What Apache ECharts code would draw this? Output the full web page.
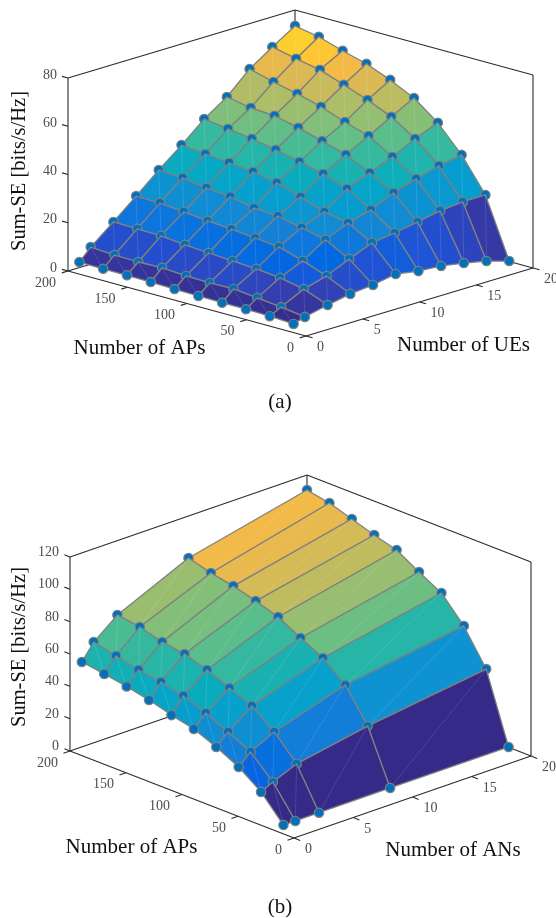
<!DOCTYPE html>
<html>
<head>
<meta charset="utf-8">
<style>html,body{margin:0;padding:0;background:#fff}#c{width:556px;height:918px}</style>
<script src="https://cdn.jsdelivr.net/npm/echarts@6/dist/echarts.min.js"></script>
</head>
<body>
<div id="c"></div>
<script>
// ---------- data: number of APs along the rows ----------
const apValues = [200,180,160,140,120,100,80,60,40,20];

// panel (a): Sum-SE for each number of UEs
const ueValues = [20,18,16,14,12,10,8,6,4,2,1];
const seUE20 = [73.4,71.6,68.5,65.8,61.8,57.0,49.4,38.8,24.9,0.2];
const seUE18 = [67.5,65.3,63.4,59.9,56.3,52.0,45.6,37.1,24.8,3.0];
const seUE16 = [61.2,58.5,56.3,53.6,50.0,46.9,40.9,34.5,23.9,5.0];
const seUE14 = [52.4,50.6,50.0,47.7,44.9,41.9,37.1,31.5,22.1,6.6];
const seUE12 = [46.1,44.7,43.3,41.4,39.1,36.8,33.3,27.3,20.4,7.3];
const seUE10 = [38.1,37.1,36.1,35.1,33.2,30.1,26.6,24.7,19.1,8.9];
const seUE8  = [30.6,30.0,28.6,27.6,25.6,25.0,22.8,20.5,15.2,7.2];
const seUE6  = [22.6,22.4,21.4,20.4,19.7,18.7,17.7,14.6,11.0,6.3];
const seUE4  = [14.7,14.5,14.3,13.3,12.6,12.0,11.4,10.4,8.4,4.5];
const seUE2  = [7.1,6.5,6.3,6.6,5.9,5.7,5.9,4.9,3.8,2.4];
const seUE1  = [2.3,2.2,2.2,2.1,1.9,1.7,1.6,1.6,1.4,0.9];

// panel (b): Sum-SE for each number of ANs
const anValues = [20,10,4,2,1];
const seAN20 = [110.7,108.0,103.5,99.0,95.1,86.9,79.3,64.3,43.0,0.2];
const seAN10 = [94.0,90.1,87.4,83.5,79.0,71.4,64.4,53.1,33.1,0.2];
const seAN4  = [74.0,71.9,68.0,66.0,61.5,55.7,50.0,39.3,24.9,0.1];
const seAN2  = [62.3,59.1,55.8,53.7,50.5,45.3,39.0,32.0,18.8,0.1];
const seAN1  = [52.5,50.5,48.1,45.1,41.2,38.0,32.2,25.2,15.2,0.1];

// ---------- tick labels ----------
const apTicks = [200,150,100,50,0];
const ueTicks = [0,5,10,15,20];
const seTicksA = [0,20,40,60,80];
const seTicksB = [0,20,40,60,80,100,120];

const parula = ['#352a87','#353dad','#2053d4','#0268e1','#0d75dc','#1481d6','#108ed2','#079ccf','#06a7c6','#0faeb9','#25b5a9','#42bb98','#65be86','#87bf77','#a5be6b','#c0bc60','#d9ba56','#f1b94a','#ffc337','#fad32a','#f5e41d','#f9fb0e'];

const panels = [
  { series: ueValues,
    table: [seUE20,seUE18,seUE16,seUE14,seUE12,seUE10,seUE8,seUE6,seUE4,seUE2,seUE1],
    seTicks: seTicksA, seMax: 80,
    view: {x0:306,xAp:1.19,xUe:11.35,y0:336,yAp:0.325,yUe:3.4,yZ:2.4125},
    zLabelDy: -3,
    apName: ['Number of APs',139.5,348], ueName: ['Number of UEs',463.5,345],
    seName: [20,171], caption: ['(a)',280,402] },
  { series: anValues,
    table: [seAN20,seAN10,seAN4,seAN2,seAN1],
    seTicks: seTicksB, seMax: 120,
    view: {x0:294,xAp:1.12,xUe:11.85,y0:838,yAp:0.435,yUe:4.1,yZ:1.617},
    zLabelDy: -4.5,
    apName: ['Number of APs',131.5,847], ueName: ['Number of ANs',453,850],
    seName: [20,647], caption: ['(b)',280,907] }
];

const SERIF = '"Liberation Serif","Times New Roman",serif';
const LINE = '#2b2b2b', MESH = '#808080', MARK = '#0072bd', TICK = '#4d4d4d', INK = '#111';

function colorOf(t){
  const f = Math.max(0,Math.min(1,t))*(parula.length-1), i = Math.min(Math.floor(f),parula.length-2), k = f-i;
  const h = s => [1,3,5].map(n=>parseInt(s.substr(n,2),16));
  const a = h(parula[i]), b = h(parula[i+1]);
  return 'rgb('+a.map((v,n)=>Math.round(v+(b[n]-v)*k)).join(',')+')';
}
function projector(p,api){
  const v = p.view;
  return (ap,ue,z)=>api.coord([v.x0-v.xAp*ap+v.xUe*ue, v.y0-v.yAp*ap-v.yUe*ue-v.yZ*z]);
}
function frameSeries(p){
  const apMax = Math.max(...apTicks), ueMax = Math.max(...ueTicks), zMax = p.seMax;
  const segs = [
    // back walls
    [[apMax,0,0],[apMax,0,zMax]], [[apMax,0,zMax],[apMax,ueMax,zMax]], [[apMax,ueMax,zMax],[0,ueMax,zMax]],
    [[apMax,ueMax,0],[apMax,ueMax,zMax]], [[0,ueMax,0],[0,ueMax,zMax]],
    [[apMax,0,0],[apMax,ueMax,0]], [[apMax,ueMax,0],[0,ueMax,0]],
    // front axes
    [[apMax,0,0],[0,0,0]], [[0,0,0],[0,ueMax,0]]
  ];
  apTicks.forEach(a=>segs.push([[a,0,0],[a,-0.55,0]]));
  ueTicks.forEach(u=>segs.push([[0,u,0],[-5.5,u,0]]));
  p.seTicks.forEach(s=>segs.push([[apMax,0,s],[apMax+5,0,s]]));
  return {
    type:'custom', coordinateSystem:'cartesian2d', clip:false, silent:true, z:1, animation:false,
    data: segs.map((_,i)=>[i,0]),
    renderItem(params,api){
      const P = projector(p,api), s = segs[params.dataIndex], a = P(...s[0]), b = P(...s[1]);
      return {type:'line',shape:{x1:a[0],y1:a[1],x2:b[0],y2:b[1]},style:{stroke:LINE,lineWidth:1.1,fill:null}};
    }
  };
}
function surfaceSeries(p){
  const rows = p.series, T = p.table;
  const flat = T.reduce((m,r)=>m.concat(r),[]);
  const lo = Math.min(...flat), hi = Math.max(...flat);
  const items = [];
  // painter's order: far corner first
  for(let j=0;j<rows.length;j++) for(let i=0;i<apValues.length;i++) items.push([i,j]);
  return {
    type:'custom', coordinateSystem:'cartesian2d', clip:false, silent:true, z:2, animation:false,
    data: items,
    renderItem(params,api){
      const P = projector(p,api), [i,j] = items[params.dataIndex];
      const V = (ii,jj)=>P(apValues[ii],rows[jj],T[jj][ii]);
      const c = V(i,j);
      const children = [{type:'circle',shape:{cx:c[0],cy:c[1],r:4.7},style:{fill:MARK,stroke:MESH,lineWidth:1.2}}];
      if(i<apValues.length-1 && j<rows.length-1){
        const a=V(i+1,j), b=V(i+1,j+1), d=V(i,j+1);
        children.push({type:'polygon',shape:{points:[c,a,b,d]},
          style:{fill:colorOf((T[j+1][i+1]-lo)/(hi-lo)),stroke:MESH,lineWidth:1.3,lineJoin:'round'}});
        children.push({type:'line',shape:{x1:c[0],y1:c[1],x2:b[0],y2:b[1]},
          style:{stroke:'rgba(255,255,255,0.2)',lineWidth:0.6,fill:null}});
      }
      return {type:'group',children};
    }
  };
}
function textSeries(p){
  const apMax = Math.max(...apTicks);
  const items = [];
  p.seTicks.forEach(s=>items.push({k:'z',s}));
  apTicks.forEach(a=>items.push({k:'ap',a}));
  ueTicks.forEach(u=>items.push({k:'ue',u}));
  items.push({k:'name',n:p.apName},{k:'name',n:p.ueName},{k:'name',n:p.caption},{k:'se',n:p.seName});
  return {
    type:'custom', coordinateSystem:'cartesian2d', clip:false, silent:true, z:3, animation:false,
    data: items.map((_,i)=>[i,0]),
    renderItem(params,api){
      const it = items[params.dataIndex], P = projector(p,api);
      const tickFont = '14px '+SERIF, nameFont = '21px '+SERIF;
      const T = (x,y,text,align,font,fill,rot)=>({type:'text',x,y,rotation:rot||0,
        style:{text,x:0,y:0,align,verticalAlign:'middle',font,fill}});
      if(it.k==='z'){const q=P(apMax,0,it.s);return T(q[0]-11,q[1]+p.zLabelDy,String(it.s),'right',tickFont,TICK);}
      if(it.k==='ap'){const q=P(it.a,0,0);return T(q[0]-12,q[1]+12,String(it.a),'right',tickFont,TICK);}
      if(it.k==='ue'){const q=P(0,it.u,0);return T(q[0]+11,q[1]+11.5,String(it.u),'left',tickFont,TICK);}
      if(it.k==='name'){const q=api.coord([it.n[1],it.n[2]]);return T(q[0],q[1],it.n[0],'center',nameFont,INK);}
      const q=api.coord(it.n);
      return T(q[0],q[1],'Sum-SE [bits/s/Hz]','center','20.5px '+SERIF,INK,Math.PI/2);
    }
  };
}

const chart = echarts.init(document.getElementById('c'),null,{renderer:'canvas',width:556,height:918});
chart.setOption({
  animation:false,
  backgroundColor:'#fff',
  grid:{left:0,top:0,width:556,height:918,containLabel:false},
  xAxis:{type:'value',min:0,max:556,show:false},
  yAxis:{type:'value',min:0,max:918,inverse:true,show:false},
  series: panels.flatMap(p=>[frameSeries(p),surfaceSeries(p),textSeries(p)])
});
</script>
</body>
</html>
